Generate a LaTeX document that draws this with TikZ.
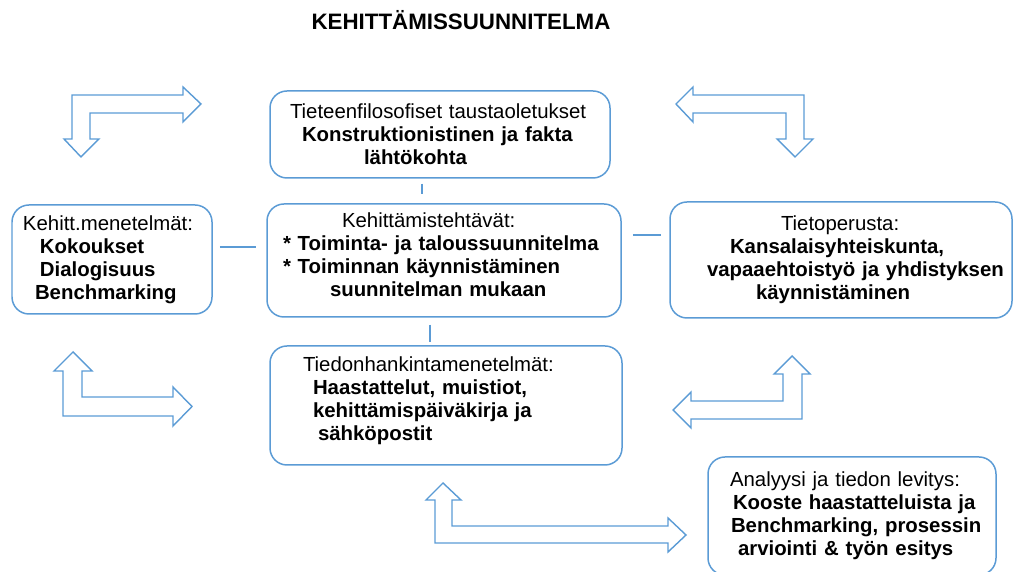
\documentclass[tikz,border=0pt]{standalone}
\usepackage{fontspec}
\setmainfont{Liberation Sans}
\definecolor{boxblue}{RGB}{91,155,213}
\tikzset{
  box/.style={draw=boxblue, line width=0.85pt, rounded corners=0.34cm,
    inner xsep=0pt, inner ysep=0pt, align=left,
    font=\fontsize{11.6}{13.1}\selectfont},
  link/.style={draw=boxblue, line width=0.8pt},
  blockarr/.style={draw=boxblue, line width=0.8pt, fill=white, line join=miter}
}
\begin{document}
\begin{tikzpicture}
  \useasboundingbox (0,0) rectangle (20.30,11.44);
  \node (title) at (9.22,11.04) {\fontsize{12.7}{14}\selectfont\bfseries KEHITTÄMISSUUNNITELMA};
  % boxes
  \node[box, text width=6.80cm, minimum height=1.74cm] (filo) at (8.80,8.75)
    {\hspace*{0.40cm}Tieteenfilosofiset taustaoletukset\\
     \hspace*{0.64cm}\textbf{Konstruktionistinen ja fakta}\\
     \hspace*{1.88cm}\textbf{lähtökohta}};
  \node[box, text width=7.08cm, minimum height=2.26cm] (teht) at (8.88,6.23)
    {\hspace*{1.50cm}Kehittämistehtävät:\\
     \hspace*{0.32cm}\textbf{* Toiminta- ja taloussuunnitelma}\\
     \hspace*{0.32cm}\textbf{* Toiminnan käynnistäminen}\\
     \hspace*{1.26cm}\textbf{suunnitelman mukaan}\rule[-0.22cm]{0pt}{0pt}};
  \node[box, text width=4.00cm, minimum height=2.18cm] (kmen) at (2.24,6.25)
    {\hspace*{0.22cm}Kehitt.menetelmät:\\
     \hspace*{0.56cm}\textbf{Kokoukset}\\
     \hspace*{0.56cm}\textbf{Dialogisuus}\\
     \hspace*{0.46cm}\textbf{Benchmarking}};
  \node[box, text width=6.84cm, minimum height=2.32cm] (tieto) at (16.82,6.24)
    {\hspace*{2.22cm}Tietoperusta:\\
     \hspace*{1.20cm}\textbf{Kansalaisyhteiskunta,}\\
     \hspace*{0.74cm}\textbf{vapaaehtoistyö ja yhdistyksen}\\
     \hspace*{1.72cm}\textbf{käynnistäminen}};
  \node[box, text width=7.04cm, minimum height=2.38cm] (tiedon) at (8.92,3.33)
    {\hspace*{0.66cm}Tiedonhankintamenetelmät:\\
     \hspace*{0.86cm}\textbf{Haastattelut, muistiot,}\\
     \hspace*{0.86cm}\textbf{kehittämispäiväkirja ja}\\
     \hspace*{0.96cm}\textbf{sähköpostit}\rule[-0.28cm]{0pt}{0pt}};
  \node[box, text width=5.76cm, minimum height=2.36cm] (analyysi) at (17.04,1.12)
    {\hspace*{0.44cm}Analyysi ja tiedon levitys:\\
     \hspace*{0.50cm}\textbf{Kooste haastatteluista ja}\\
     \hspace*{0.46cm}\textbf{Benchmarking, prosessin}\\
     \hspace*{0.60cm}\textbf{arviointi \& työn esitys}};
  % short links
  \draw[link, shorten <=0.10cm, shorten >=0.18cm]
    ([xshift=-0.36cm]filo.south) -- ([xshift=-0.36cm]filo.south |- teht.north);
  \draw[link, shorten <=0.14cm, shorten >=0.06cm]
    ([xshift=-0.28cm]teht.south) -- ([xshift=-0.28cm]teht.south |- tiedon.north);
  \draw[link, shorten <=0.14cm, shorten >=0.20cm]
    ([yshift=0.25cm]kmen.east) -- ([yshift=0.25cm]kmen.east -| teht.west);
  \draw[link, shorten <=0.22cm, shorten >=0.16cm]
    ([yshift=0.51cm]teht.east) -- ([yshift=0.51cm]teht.east -| tieto.west);
  % block arrows
  \begin{scope}[blockarr]
    \draw (1.44,9.54) -- (3.66,9.54) -- (3.66,9.70) -- (4.02,9.36) -- (3.66,9.00)
      -- (3.66,9.18) -- (1.80,9.18) -- (1.80,8.66) -- (1.98,8.66) -- (1.62,8.30)
      -- (1.28,8.66) -- (1.44,8.66) -- cycle;
    \draw (16.08,9.54) -- (13.86,9.54) -- (13.86,9.70) -- (13.52,9.36) -- (13.86,9.00)
      -- (13.86,9.18) -- (15.72,9.18) -- (15.72,8.66) -- (15.54,8.66) -- (15.90,8.30)
      -- (16.26,8.66) -- (16.08,8.66) -- cycle;
    \draw (1.26,3.12) -- (1.26,4.02) -- (1.08,4.02) -- (1.46,4.40) -- (1.84,4.02)
      -- (1.64,4.02) -- (1.64,3.50) -- (3.46,3.50) -- (3.46,3.70) -- (3.84,3.31)
      -- (3.46,2.92) -- (3.46,3.12) -- cycle;
    \draw (16.04,3.06) -- (16.04,3.96) -- (16.20,3.96) -- (15.84,4.32) -- (15.48,3.96)
      -- (15.66,3.96) -- (15.66,3.42) -- (13.82,3.42) -- (13.82,3.60) -- (13.46,3.24)
      -- (13.82,2.88) -- (13.82,3.06) -- cycle;
    \draw (8.70,0.58) -- (8.70,1.44) -- (8.52,1.44) -- (8.86,1.78) -- (9.22,1.44)
      -- (9.04,1.44) -- (9.04,0.92) -- (13.36,0.92) -- (13.36,1.08) -- (13.72,0.74)
      -- (13.36,0.40) -- (13.36,0.58) -- cycle;
  \end{scope}
\end{tikzpicture}
\end{document}
